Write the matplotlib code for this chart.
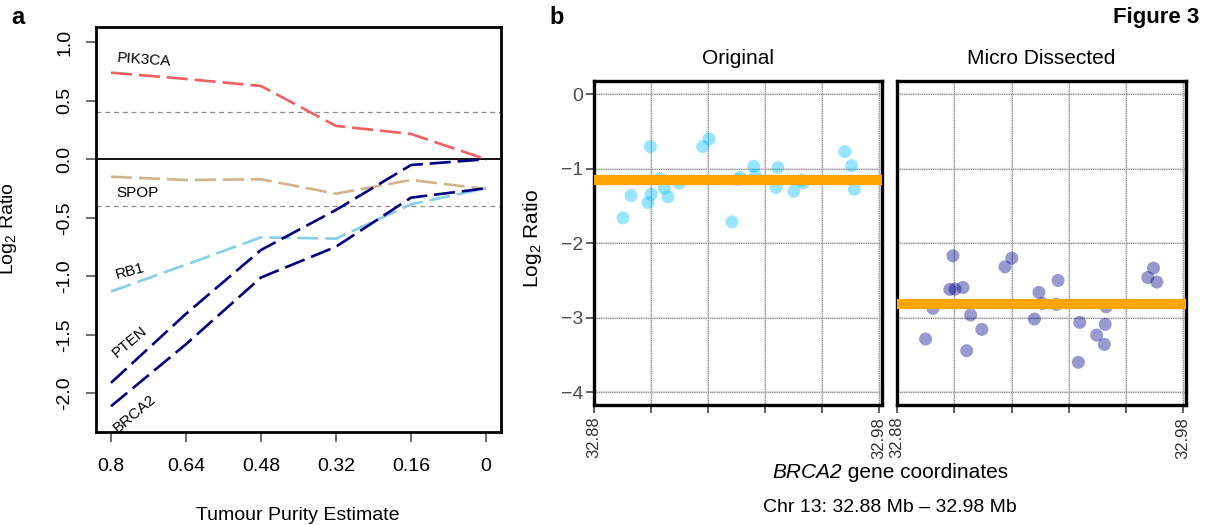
import matplotlib
matplotlib.use('Agg')
import matplotlib.pyplot as plt
import numpy as np

plt.rcParams['font.family'] = ['Liberation Sans', 'DejaVu Sans']
plt.rcParams['mathtext.fontset'] = 'custom'
plt.rcParams['mathtext.rm'] = 'Liberation Sans'
plt.rcParams['mathtext.it'] = 'Liberation Sans:italic'

# ---------------- Panel a data ----------------
purity = [0.8, 0.64, 0.48, 0.32, 0.16, 0.0]
purity_labels = ['0.8', '0.64', '0.48', '0.32', '0.16', '0']
pik3ca = [0.74, 0.686, 0.626, 0.285, 0.216, 0.0]
spop = [-0.149, -0.177, -0.171, -0.294, -0.177, -0.254]
rb1 = [-1.13, -0.90, -0.667, -0.678, -0.385, -0.248]
pten = [-1.91, -1.32, -0.775, -0.433, -0.049, 0.0]
brca2 = [-2.11, -1.58, -1.01, -0.747, -0.328, -0.248]
a_yticks = [1.0, 0.5, 0.0, -0.5, -1.0, -1.5, -2.0]

# ---------------- Panel b data ----------------
orig_x = [32.8901, 32.8929, 32.8997, 32.8989, 32.9000, 32.9030, 32.9046, 32.9059,
          32.9099, 32.9181, 32.9203, 32.9284, 32.9302, 32.9313, 32.9360, 32.9366,
          32.9439, 32.9445, 32.9501, 32.9528, 32.9534, 32.9680, 32.9704, 32.9714]
orig_y = [-1.658, -1.358, -0.701, -1.452, -1.340, -1.130, -1.260, -1.376,
          -1.189, -0.701, -0.599, -1.711, -1.144, -1.117, -0.965, -1.086,
          -1.251, -0.983, -1.300, -1.153, -1.189, -0.768, -0.956, -1.273]
micro_x = [32.8899, 32.8925, 32.8995, 32.8984, 32.9002, 32.9030, 32.9057, 32.9043,
           32.9096, 32.9177, 32.9201, 32.9280, 32.9296, 32.9308, 32.9357, 32.9363,
           32.9434, 32.9439, 32.9498, 32.9525, 32.9528, 32.9531, 32.9677, 32.9697,
           32.9709]
micro_y = [-3.284, -2.873, -2.167, -2.618, -2.614, -2.592, -2.962, -3.441,
           -3.155, -2.315, -2.198, -3.016, -2.658, -2.806, -2.819, -2.498,
           -3.597, -3.061, -3.231, -3.356, -3.088, -2.851, -2.458, -2.332,
           -2.520]
orig_seg = -1.153
micro_seg = -2.82
b_xticks = [32.88, 32.90, 32.92, 32.94, 32.96, 32.98]
b_xticklabels = ['32.88', '', '', '', '', '32.98']
b_yticks = [0, -1, -2, -3, -4]

W, H = 1206, 525
fig = plt.figure(figsize=(W / 100, H / 100), dpi=100)


def px_axes(l, t, r, b):
    return fig.add_axes([l / W, 1 - b / H, (r - l) / W, (b - t) / H])


# ================= Panel a =================
ax = px_axes(96, 27, 501, 432)
ax.set_xlim(0.832, -0.032)
ax.set_ylim(-2.33, 1.13)
for v in (0.4, -0.4):
    ax.axhline(v, color='#8c8c8c', lw=0.9, ls=(0, (4, 3)))
ax.axhline(0, color='black', lw=1.3)
dash = (0, (8, 2.6))
lw = 1.9
ax.plot(purity, pik3ca, color='#F06060', lw=lw, ls=dash)
ax.plot(purity, spop, color='#D2B48C', lw=lw, ls=dash)
ax.plot(purity, rb1, color='#87CEEB', lw=lw, ls=dash)
ax.plot(purity, pten, color='#000080', lw=lw, ls=dash)
ax.plot(purity, brca2, color='#000080', lw=lw, ls=dash)

ax.text(0.789, 0.85, 'PIK3CA', fontsize=11, ha='left', va='center', rotation=-4)
ax.text(0.789, -0.285, 'SPOP', fontsize=11, ha='left', va='center')
ax.text(0.759, -0.96, 'RB1', fontsize=11, ha='center', va='center', rotation=15)
ax.text(0.761, -1.56, 'PTEN', fontsize=11, ha='center', va='center', rotation=40)
ax.text(0.749, -2.17, 'BRCA2', fontsize=11, ha='center', va='center', rotation=40)

ax.set_xticks(purity)
ax.set_xticklabels(purity_labels, fontsize=14)
ax.set_yticks(a_yticks)
ax.set_yticklabels(['%.1f' % v for v in a_yticks], fontsize=14, rotation=90, va='center')
ax.tick_params(axis='both', direction='out', length=7.5, width=1.1, color='#444444')
ax.tick_params(axis='x', pad=11)
ax.tick_params(axis='y', pad=9)
for s in ax.spines.values():
    s.set_linewidth(2.0)
fig.text(9 / W, 1 - 229 / H, 'Log$_2$ Ratio', rotation=90, fontsize=14, ha='center', va='center')
fig.text(298 / W, 1 - 515 / H, 'Tumour Purity Estimate', fontsize=14, ha='center', va='center')
fig.text(18 / W, 1 - 18 / H, 'a', fontsize=17, fontweight='bold', ha='center', va='center')

# ================= Panel b =================
axL = px_axes(594, 81, 882, 405)
axR = px_axes(897, 81, 1186, 405)

panels = [(axL, orig_x, orig_y, orig_seg, '#00BFFF', 'Original'),
          (axR, micro_x, micro_y, micro_seg, '#00008B', 'Micro Dissected')]
for i, (a, xs, ys, seg, col, title) in enumerate(panels):
    a.set_xlim(32.8799, 32.9811)
    a.set_ylim(-4.17, 0.18)
    for xv in b_xticks:
        a.axvline(xv, color='#e3e3e3', lw=1.6, zorder=0)
        a.axvline(xv, color='#8a8a8a', lw=0.8, ls=(0, (1, 1)), zorder=0.5)
    for yv in b_yticks:
        a.axhline(yv, color='#e3e3e3', lw=1.6, zorder=0)
        a.axhline(yv, color='#8a8a8a', lw=0.8, ls=(0, (1, 1)), zorder=0.5)
    a.scatter(xs, ys, s=88, color=col, alpha=0.4, edgecolors='none', zorder=2)
    a.axhline(seg, color='#FFA500', lw=7.4, zorder=3)
    a.set_xticks(b_xticks)
    a.set_xticklabels(b_xticklabels, rotation=90, fontsize=12, color='#333333')
    a.set_yticks(b_yticks)
    a.tick_params(axis='both', direction='out', length=5.5, width=1.1, color='#333333')
    a.tick_params(axis='x', pad=3)
    for s in a.spines.values():
        s.set_linewidth(2.4)
    a.set_title(title, fontsize=15, pad=12)
    if i == 0:
        a.set_yticklabels(['0', '\u22121', '\u22122', '\u22123', '\u22124'], fontsize=14, color='#4D4D4D')
        a.tick_params(axis='y', pad=2)
    else:
        a.set_yticklabels([])
        a.tick_params(axis='y', length=0)

fig.text(533 / W, 1 - 238 / H, 'Log$_2$ Ratio', rotation=90, fontsize=15, ha='center', va='center')

# x-axis label with italic gene name
r = fig.canvas.get_renderer()
t1 = fig.text(0, 0, 'BRCA2', fontsize=15, fontstyle='italic', ha='left', va='center')
t2 = fig.text(0, 0, ' gene coordinates', fontsize=15, ha='left', va='center')
w1 = t1.get_window_extent(r).width
w2 = t2.get_window_extent(r).width
x0 = 890 - (w1 + w2) / 2
t1.set_position((x0 / W, 1 - 473 / H))
t2.set_position(((x0 + w1) / W, 1 - 473 / H))

fig.text(890 / W, 1 - 507 / H, 'Chr 13: 32.88 Mb \u2013 32.98 Mb', fontsize=14, ha='center', va='center')
fig.text(557 / W, 1 - 18 / H, 'b', fontsize=17, fontweight='bold', ha='center', va='center')
fig.text(1199 / W, 1 - 17 / H, 'Figure 3', fontsize=16, fontweight='bold', ha='right', va='center')

fig.savefig('out.png', dpi=100)
